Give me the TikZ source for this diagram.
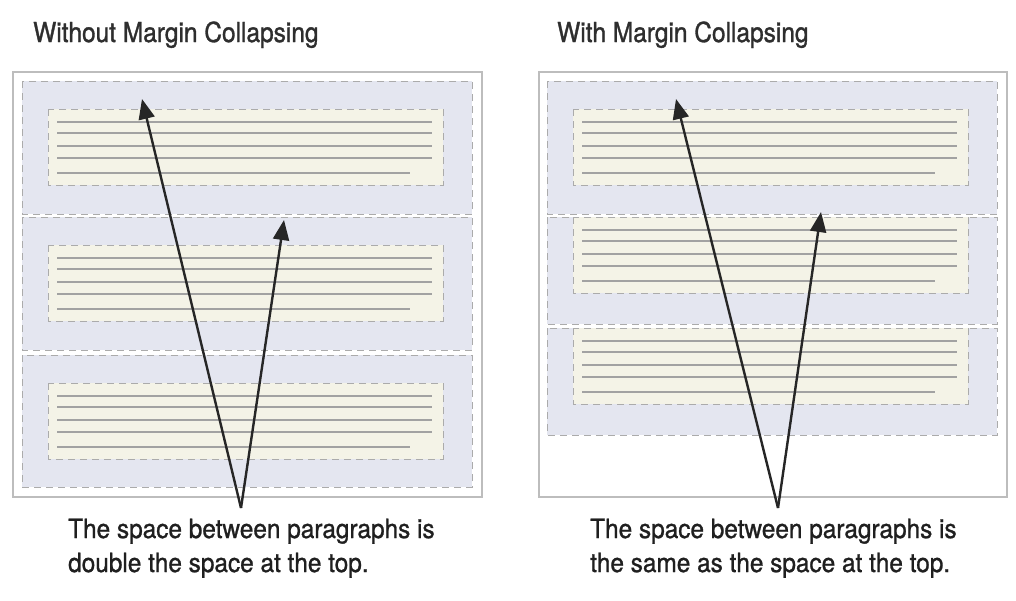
\documentclass[tikz,border=0pt]{standalone}
\usepackage{fontspec}
\setmainfont{TeX Gyre Heros}
\newfontfamily\titlefont{TeX Gyre Heros}[FakeStretch=0.89,FakeBold=1.2]
\newfontfamily\capfont{TeX Gyre Heros}[FakeStretch=0.92,FakeBold=1.0]
\usetikzlibrary{arrows.meta}
\definecolor{marginblue}{HTML}{E4E6F0}
\definecolor{parayellow}{HTML}{F4F3E7}
\definecolor{textgray}{HTML}{A2A2A2}
\definecolor{dashgray}{HTML}{ABABAB}
\definecolor{framegray}{HTML}{BDBDBD}
\tikzset{
  marginbox/.style={fill=marginblue, draw=dashgray, line width=1pt, dash pattern=on 7pt off 5pt},
  parabox/.style={fill=parayellow, draw=dashgray, line width=1pt, dash pattern=on 7pt off 5pt},
  textline/.style={draw=textgray, line width=2.8pt},
  framebox/.style={draw=framegray, line width=1.6pt},
  pointer/.style={draw=black!85, line width=2.4pt, -{Triangle[length=20pt,width=16pt]}},
  title/.style={anchor=base west, inner sep=0pt, font=\titlefont\fontsize{27.5}{32}\selectfont, text=black!82},
  caption/.style={anchor=base west, inner sep=0pt, font=\capfont\fontsize{26.5}{34}\selectfont, text=black!88, align=left}
}
\newcommand\mypara[2]{% #1 = left x of yellow box, #2 = top y of yellow box
  \draw[parabox] (#1,#2) rectangle ++(395,76);
  \foreach \dy in {13,24,37,49} {\draw[textline] (#1+9,#2+\dy) -- ++(375,0);}
  \draw[textline] (#1+9,#2+64) -- ++(353,0);
}
\begin{document}
\begin{tikzpicture}[x=1pt,y=-1pt]
\useasboundingbox[fill=white] (0,0) rectangle (1016,600);
% titles
\node[title] (t1) at (33,42) {Without Margin Collapsing};
\node[title] (t2) at (557,42) {With Margin Collapsing};
% left panel
\draw[framebox] (13,72) rectangle (482,497);
\draw[marginbox] (22,81) rectangle (472,214);
\draw[marginbox] (22,217) rectangle (472,350);
\draw[marginbox] (22,355) rectangle (472,487);
\mypara{48}{109}
\mypara{48}{245}
\mypara{48}{383}
% right panel
\draw[framebox] (539,72) rectangle (1007,497);
\draw[marginbox] (547,81) rectangle (997,214);
\draw[marginbox] (547,217) rectangle (997,324);
\draw[marginbox] (547,328) rectangle (997,435);
\mypara{573}{109}
\mypara{573}{217}
\mypara{573}{328}
% captions (base anchor = baseline of the last line)
\node[caption] (c1) at (68,572) {The space between paragraphs is\\double the space at the top.};
\node[caption] (c2) at (590,572) {The space between paragraphs is\\the same as the space at the top.};
% arrows
\coordinate (l0) at (241,508);
\coordinate (la) at (142,99);
\coordinate (lb) at (284,220);
\coordinate (r0) at (778,508);
\coordinate (ra) at (676,99);
\coordinate (rb) at (821,212);
\draw[pointer] (l0) -- (la);
\draw[pointer] (l0) -- (lb);
\draw[pointer] (r0) -- (ra);
\draw[pointer] (r0) -- (rb);
\end{tikzpicture}
\end{document}
